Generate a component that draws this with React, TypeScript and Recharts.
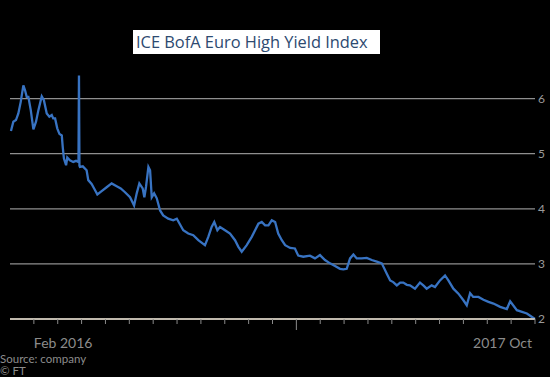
import { LineChart, Line, XAxis, YAxis, CartesianGrid } from 'recharts'

// months since 1 Jan 2016
const monthsSinceJan2016 = [
  0.04, 0.14, 0.25, 0.35, 0.45, 0.56, 0.63, 0.7, 0.77, 0.87, 0.98, 1.09, 1.19, 1.33, 1.42,
  1.54, 1.65, 1.75, 1.81, 1.89, 1.98, 2.07, 2.17, 2.21, 2.26, 2.35, 2.4, 2.51, 2.65, 2.77,
  2.87, 2.89, 2.91, 2.93, 3.05, 3.21, 3.28, 3.42, 3.56, 3.66, 3.84, 4.05, 4.26, 4.47, 4.64,
  4.82, 5.03, 5.2, 5.31, 5.42, 5.56, 5.63, 5.7, 5.8, 5.87, 5.94, 6.04, 6.15, 6.29, 6.42,
  6.63, 6.84, 6.99, 7.12, 7.26, 7.47, 7.68, 7.89, 8.17, 8.31, 8.45, 8.56, 8.69, 8.8, 9.01,
  9.22, 9.43, 9.57, 9.71, 9.92, 10.13, 10.27, 10.41, 10.55, 10.69, 10.83, 10.97, 11.11, 11.24, 11.39,
  11.53, 11.74, 11.94, 12.08, 12.29, 12.57, 12.78, 12.99, 13.2, 13.41, 13.62, 13.83, 13.97, 14.11, 14.25,
  14.39, 14.53, 14.74, 14.95, 15.16, 15.37, 15.58, 15.79, 15.93, 16.06, 16.21, 16.35, 16.48, 16.63, 16.76,
  16.97, 17.18, 17.32, 17.46, 17.67, 17.81, 18.02, 18.23, 18.37, 18.58, 18.79, 19.0, 19.14, 19.28, 19.41,
  19.63, 19.84, 20.05, 20.26, 20.54, 20.82, 20.96, 21.24, 21.66, 22.0,
]

const yieldPct = [
  5.41, 5.58, 5.61, 5.73, 5.94, 6.24, 6.15, 6.03, 6.03, 5.79, 5.44, 5.58, 5.79, 6.04, 5.97,
  5.73, 5.67, 5.7, 5.64, 5.64, 5.46, 5.36, 5.33, 5.12, 4.91, 4.79, 4.93, 4.88, 4.85, 4.87,
  4.85, 6.42, 4.78, 4.76, 4.77, 4.7, 4.52, 4.45, 4.34, 4.26, 4.32, 4.39, 4.46, 4.41, 4.37,
  4.3, 4.21, 4.06, 4.28, 4.46, 4.37, 4.21, 4.4, 4.76, 4.7, 4.21, 4.28, 4.19, 3.97, 3.88,
  3.82, 3.79, 3.82, 3.72, 3.61, 3.55, 3.52, 3.43, 3.34, 3.49, 3.67, 3.76, 3.61, 3.67, 3.61,
  3.55, 3.43, 3.31, 3.22, 3.34, 3.49, 3.61, 3.73, 3.76, 3.7, 3.7, 3.79, 3.76, 3.55, 3.43,
  3.34, 3.29, 3.28, 3.15, 3.13, 3.15, 3.1, 3.16, 3.07, 3.01, 2.96, 2.91, 2.9, 2.91, 3.1,
  3.17, 3.1, 3.1, 3.11, 3.07, 3.04, 3.01, 2.82, 2.7, 2.67, 2.61, 2.66, 2.66, 2.62, 2.61,
  2.55, 2.66, 2.61, 2.55, 2.61, 2.58, 2.7, 2.79, 2.7, 2.55, 2.46, 2.34, 2.25, 2.47, 2.4,
  2.4, 2.35, 2.31, 2.28, 2.22, 2.18, 2.32, 2.16, 2.1, 2.0,
]

const monthTicks = [1, 2, 3, 4, 5, 6, 7, 8, 9, 10, 11, 12, 13, 14, 15, 16, 17, 18, 19, 20, 21, 22]
const yearTick = 12
const tickLabels: Record<number, { text: string; anchor: 'start' | 'end' }> = {
  1: { text: 'Feb 2016', anchor: 'start' },
  22: { text: '2017 Oct', anchor: 'end' },
}
const yTicks = [2, 3, 4, 5, 6]

const data = monthsSinceJan2016.map((m, i) => ({ m, v: yieldPct[i] }))

function MonthTick({ x, y, payload }: any) {
  const m = payload.value
  const label = tickLabels[m]
  return (
    <g>
      <line x1={x} x2={x} y1={y} y2={y + (m === yearTick ? 11 : 5)} stroke="#8a8a8a" strokeWidth={1} />
      {label && (
        <text x={label.anchor === 'end' ? x - 3 : x} y={y + 29} textAnchor={label.anchor}
          fill="#8c8c8c" fontSize={14} fontFamily="Lato">
          {label.text}
        </text>
      )}
    </g>
  )
}

export default function App() {
  return (
    <div style={{ position: 'absolute', left: 0, top: 0, width: 550, height: 377, background: '#000', overflow: 'hidden' }}>
      <LineChart width={550} height={377} data={data} margin={{ top: 71, right: 0, left: 10, bottom: 0 }}>
        <CartesianGrid horizontal vertical={false} horizontalValues={yTicks} stroke="#8f8f8f" strokeWidth={1.3} />
        <XAxis
          dataKey="m"
          type="number"
          domain={[0, 22]}
          ticks={monthTicks}
          interval={0}
          height={58}
          tickSize={0}
          tickMargin={0}
          tickLine={false}
          axisLine={{ stroke: '#ddd3c3', strokeWidth: 1.5 }}
          tick={<MonthTick />}
        />
        <YAxis
          orientation="right"
          type="number"
          domain={[2, 6.5]}
          ticks={yTicks}
          width={15}
          axisLine={false}
          tickLine={false}
          tickSize={0}
          tickMargin={3}
          tick={{ fill: '#9a9a9a', fontSize: 12, fontFamily: 'Lato' }}
        />
        <Line type="linear" dataKey="v" stroke="#3873c2" strokeWidth={2.3} dot={false} isAnimationActive={false} />
      </LineChart>
      <div style={{
        position: 'absolute', left: 133, top: 30, width: 247, height: 24, background: '#fff',
        fontFamily: 'Open Sans', fontSize: 16.4, lineHeight: '24px', color: '#2d4a70',
        paddingLeft: 3, boxSizing: 'border-box', whiteSpace: 'nowrap',
      }}>
        ICE BofA Euro High Yield Index
      </div>
      <div style={{ position: 'absolute', left: 0, top: 352, fontFamily: 'Lato', fontSize: 11.5, lineHeight: '13px', color: '#8c8c8c', whiteSpace: 'nowrap' }}>
        Source: company
      </div>
      <div style={{ position: 'absolute', left: 0, top: 364, fontFamily: 'Lato', fontSize: 11.5, lineHeight: '13px', color: '#8c8c8c', whiteSpace: 'nowrap' }}>
        © FT
      </div>
    </div>
  )
}
